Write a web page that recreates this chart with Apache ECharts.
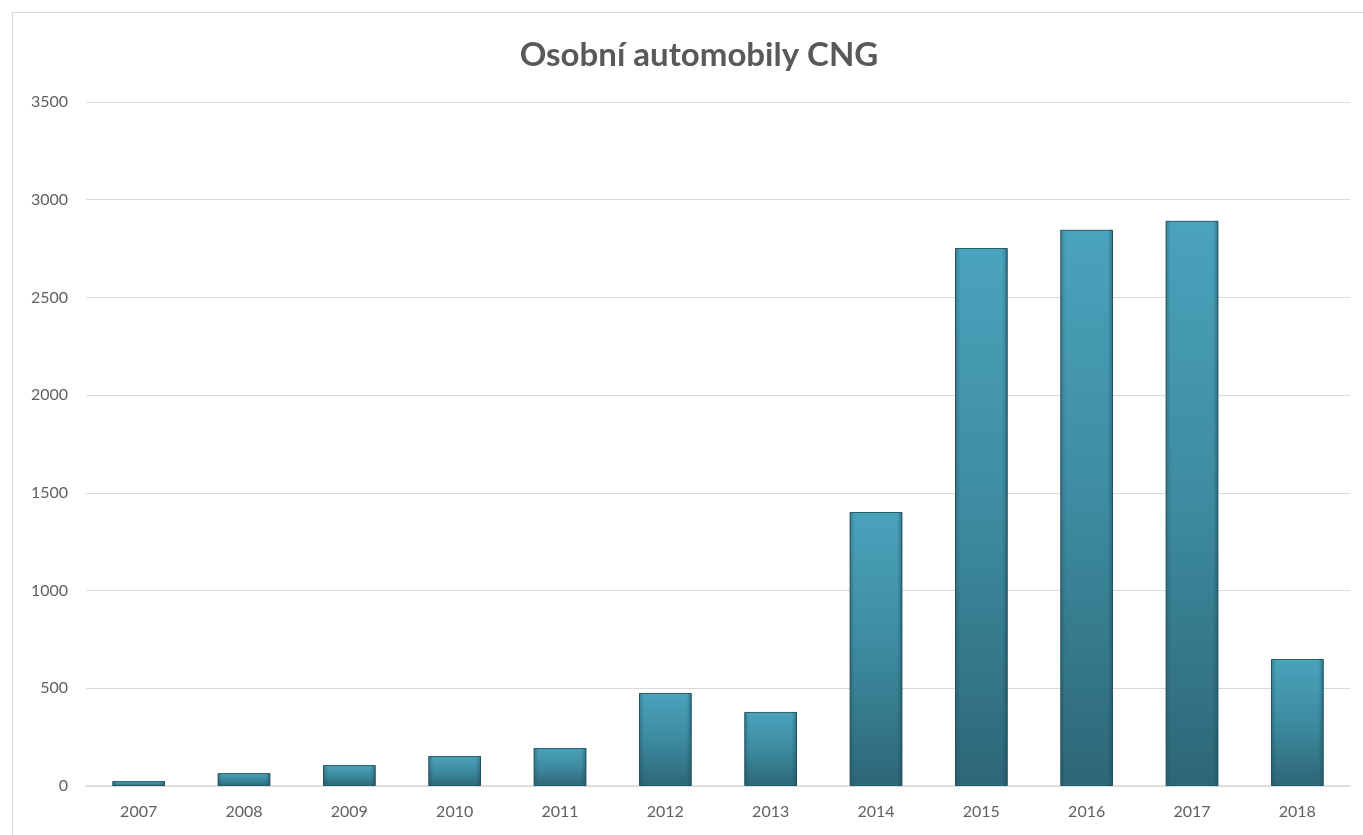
<!DOCTYPE html>
<html>
<head>
<meta charset="utf-8">
<script src="https://cdn.jsdelivr.net/npm/echarts@6/dist/echarts.min.js"></script>
<style>
  html, body { margin: 0; padding: 0; background: #fff; }
  #frame { position: absolute; left: 12px; top: 12px; width: 1360px; height: 840px; border: 1px solid #d9d9d9; box-sizing: border-box; }
  #chart { position: absolute; left: 0; top: 0; width: 1363px; height: 835px; }
</style>
</head>
<body>
<div id="frame"></div>
<div id="chart"></div>
<script>
// data
const years = ["2007", "2008", "2009", "2010", "2011", "2012", "2013", "2014", "2015", "2016", "2017", "2018"];
const cars = [25, 66, 107, 153, 194, 476, 379, 1402, 2753, 2846, 2892, 650];
const yTicks = { min: 0, max: 3500, step: 500 };

const chart = echarts.init(document.getElementById("chart"));

// svislý přechod + tmavší okraje
const barFill = new echarts.graphic.LinearGradient(0, 0, 0, 1, [
  { offset: 0, color: "#4aa3bc" },
  { offset: 0.5, color: "#3d8ba0" },
  { offset: 1, color: "#2d6777" },
]);
const edgeFill = new echarts.graphic.LinearGradient(0, 0, 1, 0, [
  { offset: 0, color: "rgba(20,60,75,0.35)" },
  { offset: 0.1, color: "rgba(20,60,75,0)" },
  { offset: 0.9, color: "rgba(20,60,75,0)" },
  { offset: 1, color: "rgba(20,60,75,0.45)" },
]);

const option = {
  animation: false,
  title: {
    text: "Osobní automobily CNG",
    left: 694,
    textAlign: "center",
    top: 34,
    textStyle: { fontFamily: "Lato", fontSize: 33, fontWeight: "bold", color: "#595959" },
  },
  grid: { left: 86, right: 13, top: 102, bottom: 49 },
  xAxis: {
    type: "category",
    data: years,
    axisTick: { show: false },
    axisLine: { lineStyle: { color: "#d9d9d9", width: 1.5 } },
    axisLabel: { color: "#606060", fontFamily: "Lato", fontSize: 16, margin: 18 },
  },
  yAxis: {
    type: "value",
    min: yTicks.min,
    max: yTicks.max,
    interval: yTicks.step,
    axisLabel: { color: "#606060", fontFamily: "Lato", fontSize: 16, margin: 18, formatter: (v) => String(v) },
    splitLine: { lineStyle: { color: "#d9d9d9" } },
  },
  series: [
    {
      type: "bar",
      data: cars,
      barCategoryGap: "50%",
      itemStyle: { color: barFill, borderColor: "#2a5f6e", borderWidth: 1 },
    },
    {
      type: "bar",
      data: cars,
      barGap: "-100%",
      barCategoryGap: "50%",
      silent: true,
      itemStyle: { color: edgeFill },
    },
  ],
};
chart.setOption(option);
window.addEventListener("resize", () => chart.resize());
</script>
</body>
</html>
